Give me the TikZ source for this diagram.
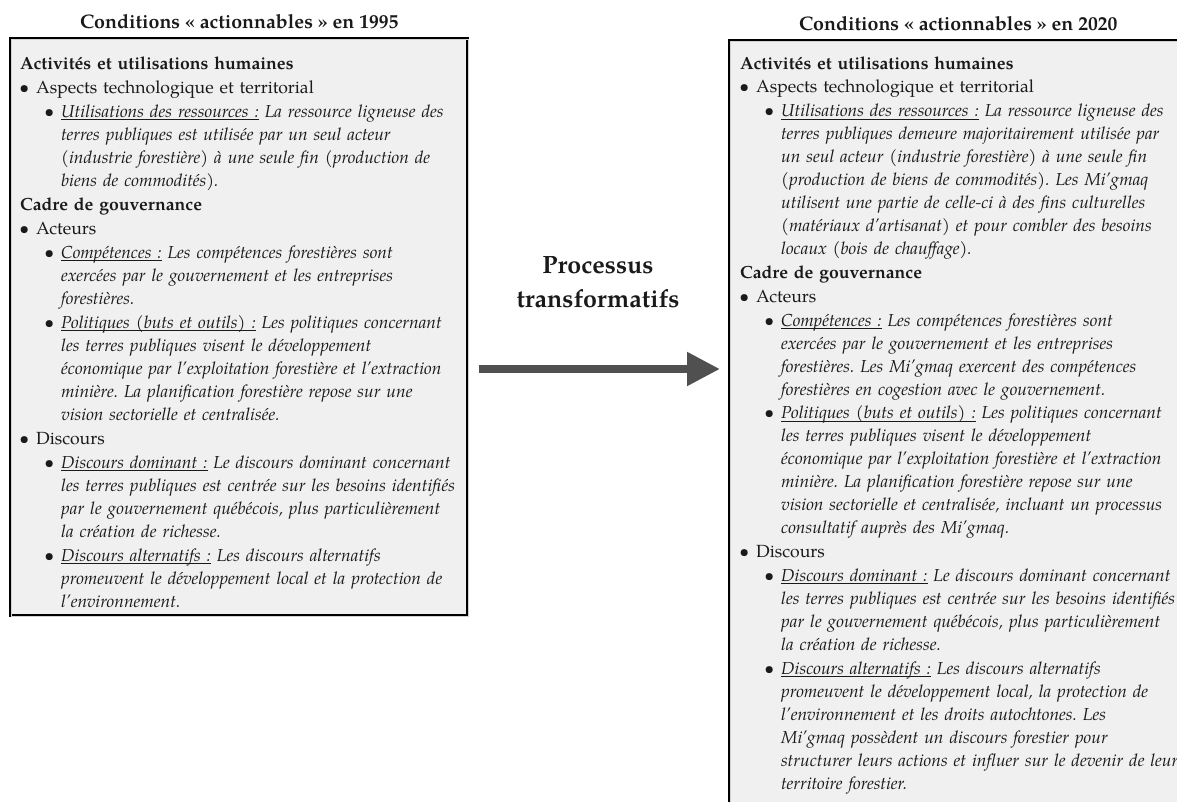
\documentclass[tikz,border=0pt]{standalone}
\usepackage{fontspec}
\setmainfont{texgyrepagella}[Extension=.otf, UprightFont=*-regular, BoldFont=*-bold, ItalicFont=*-italic, BoldItalicFont=*-bolditalic]
\usetikzlibrary{arrows.meta,positioning}
\definecolor{Panel}{HTML}{F0F0F0}
\definecolor{Ink}{HTML}{1A1A1A}
\definecolor{Flow}{HTML}{505050}

\newcommand{\labelline}[1]{\setbox0\hbox{#1}\rlap{\rule[-2.6pt]{\wd0}{0.6pt}}\box0\relax}
\newcommand{\head}[1]{\par\noindent\textbf{#1}}
\newcommand{\lvone}[1]{\par\hangindent=16pt\hangafter=0\noindent\llap{\textbullet\hspace{7pt}}#1}
\newcommand{\lvtwo}[2]{\par\hangindent=41pt\hangafter=0\noindent\llap{\textbullet\hspace{7pt}}{\fontsize{17.35}{23}\selectfont\itshape\labelline{#1} #2}}

\begin{document}
\begin{tikzpicture}[x=1pt,y=-1pt,
    panel/.style={draw=black,line width=1.5pt,double=gray!35,double distance=0.4pt,fill=Panel,inner sep=0pt},
    panetext/.style={text=Ink,inner sep=0pt,text width=470pt,anchor=north west},
    heading/.style={font=\fontsize{19.6}{24}\selectfont\bfseries,text=Ink,inner sep=0pt},
    flow/.style={Flow,line width=8pt,-{Triangle[length=33pt,width=32pt]}}]
  \fill[white] (0,0) rectangle (1177,801);
  \useasboundingbox (0,0) rectangle (1177,801);
  \clip (0,0) rectangle (1177,801);
  % boxes
  \node[panel,minimum width=457pt,minimum height=577pt,anchor=north west] (past) at (10,38) {};
  \node[panel,minimum width=457pt,minimum height=790pt,anchor=north west] (present) at (729,40) {};
  \node[heading,above=9pt of past] (pasttitle) {Conditions « actionnables » en 1995};
  \node[heading,above=9pt of present] (presenttitle) {Conditions « actionnables » en 2020};
  % 1995
  \node[panetext,font=\fontsize{17.6}{23}\selectfont] (pasttext) at ([xshift=10pt,yshift=-7pt]past.north west) {%
    \frenchspacing\setlength{\parskip}{1pt}%
    \head{Activités et utilisations humaines}
    \lvone{Aspects technologique et territorial}
    \lvtwo{Utilisations des ressources~:}{La ressource ligneuse des\newline terres publiques est utilisée par un seul acteur\newline (industrie forestière) à une seule fin (production de\newline biens de commodités).}
    \head{Cadre de gouvernance}
    \lvone{Acteurs}
    \lvtwo{Compétences~:}{Les compétences forestières sont\newline exercées par le gouvernement et les entreprises\newline forestières.}
    \lvtwo{Politiques (buts et outils)~:}{Les politiques concernant\newline les terres publiques visent le développement\newline économique par l’exploitation forestière et l’extraction\newline minière. La planification forestière repose sur une\newline vision sectorielle et centralisée.}
    \lvone{Discours}
    \lvtwo{Discours dominant~:}{Le discours dominant concernant\newline les terres publiques est centrée sur les besoins identifiés\newline par le gouvernement québécois, plus particulièrement\newline la création de richesse.}
    \lvtwo{Discours alternatifs~:}{Les discours alternatifs\newline promeuvent le développement local et la protection de\newline l’environnement.}\par};
  % 2020
  \node[panetext,font=\fontsize{17.6}{23}\selectfont] (presenttext) at ([xshift=11pt,yshift=-5pt]present.north west) {%
    \frenchspacing\setlength{\parskip}{0.8pt}%
    \head{Activités et utilisations humaines}
    \lvone{Aspects technologique et territorial}
    \lvtwo{Utilisations des ressources~:}{La ressource ligneuse des\newline terres publiques demeure majoritairement utilisée par\newline un seul acteur (industrie forestière) à une seule fin\newline (production de biens de commodités). Les Mi’gmaq\newline utilisent une partie de celle-ci à des fins culturelles\newline (matériaux d’artisanat) et pour combler des besoins\newline locaux (bois de chauffage).}
    \head{Cadre de gouvernance}
    \lvone{Acteurs}
    \lvtwo{Compétences~:}{Les compétences forestières sont\newline exercées par le gouvernement et les entreprises\newline forestières. Les Mi’gmaq exercent des compétences\newline forestières en cogestion avec le gouvernement.}
    \lvtwo{Politiques (buts et outils)~:}{Les politiques concernant\newline les terres publiques visent le développement\newline économique par l’exploitation forestière et l’extraction\newline minière. La planification forestière repose sur une\newline vision sectorielle et centralisée, incluant un processus\newline consultatif auprès des Mi’gmaq.}
    \lvone{Discours}
    \lvtwo{Discours dominant~:}{Le discours dominant concernant\newline les terres publiques est centrée sur les besoins identifiés\newline par le gouvernement québécois, plus particulièrement\newline la création de richesse.}
    \lvtwo{Discours alternatifs~:}{Les discours alternatifs\newline promeuvent le développement local, la protection de\newline l’environnement et les droits autochtones. Les\newline Mi’gmaq possèdent un discours forestier pour\newline structurer leurs actions et influer sur le devenir de leur\newline territoire forestier.}\par};
  % transition
  \coordinate (flowy) at (0,369);
  \draw[flow,shorten <=10pt,shorten >=9pt] (past.east |- flowy) -- (present.west |- flowy);
  \node[font=\fontsize{25}{34}\selectfont\bfseries,text=Ink,align=center,inner sep=0pt] (proc) at (598,282) {Processus\\transformatifs};
\end{tikzpicture}
\end{document}
